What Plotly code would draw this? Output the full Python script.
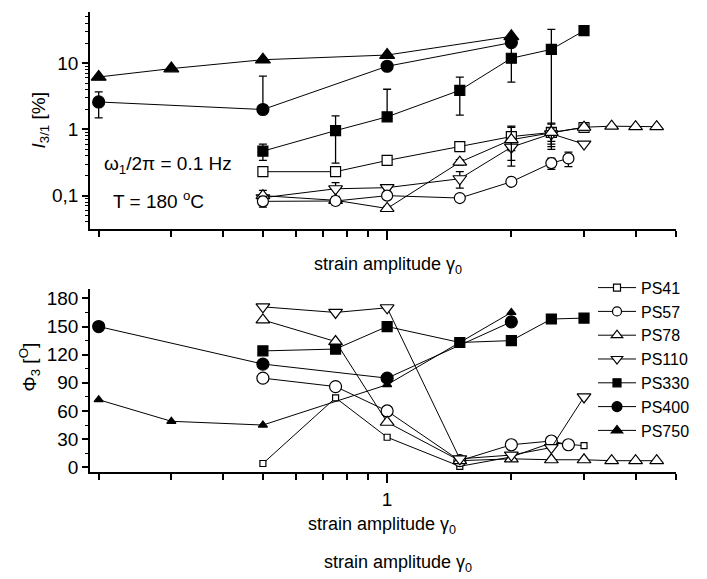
import plotly.graph_objects as go

# ---------------- data ----------------
series = ["PS41", "PS57", "PS78", "PS110", "PS330", "PS400", "PS750"]

# strain amplitudes (gamma_0) per sample
g_ps41 = [0.5, 0.75, 1, 1.5, 2, 2.5, 3]
g_ps57 = [0.5, 0.75, 1, 1.5, 2, 2.5, 2.75]
g_ps78 = [0.5, 0.75, 1, 1.5, 2, 2.5, 3, 3.5, 4, 4.5]
g_ps110 = [0.5, 0.75, 1, 1.5, 2, 2.5, 3]
g_ps330 = [0.5, 0.75, 1, 1.5, 2, 2.5, 3]
g_ps400 = [0.2, 0.5, 1, 2]
g_ps750 = [0.2, 0.3, 0.5, 1, 2]

# relative third harmonic intensity I3/1 [%]
i_ps41 = [0.23, 0.23, 0.34, 0.55, 0.78, 0.9, 1.07]
i_ps57 = [0.082, 0.083, 0.1, 0.092, 0.162, 0.31, 0.365]
i_ps78 = [0.1, 0.085, 0.064, 0.32, 0.7, 0.9, 1.08, 1.12, 1.1, 1.1]
i_ps110 = [0.093, 0.127, 0.132, 0.18, 0.54, 0.86, 0.6]
i_ps330 = [0.47, 0.96, 1.55, 3.9, 11.9, 16.2, 31]
i_ps400 = [2.6, 2.0, 9.0, 20.5]
i_ps750 = [6.2, 8.3, 11.3, 13.3, 25.5]

# error bars on I3/1 (upper, lower)
e_ps41 = [0.02, 0.02, 0.02, 0.04, 0.3, 0.35, 0.08]
e_ps57 = [0.015, 0.01, 0.01, 0.01, 0.01, 0.06, 0.09]
e_ps78 = [0.02, 0.01, 0.005, 0.03, 0.42, 0.3, 0.12, 0, 0, 0]
e_ps110 = [0.01, 0.03, 0.01, 0.05, 0.2, 0.2, 0]
e_ps330_up = [0.13, 0.64, 2.5, 2.25, 6.7, 16.3, 0]
e_ps330_dn = [0.13, 0.65, 0, 2.25, 6.7, 15.7, 0]
e_ps400_up = [1.1, 4.4, 0, 0]
e_ps400_dn = [1.1, 0, 0, 0]

# third harmonic phase Phi3 [deg]
p_ps41 = [4, 74, 32, 1, 11, 26, 23]
p_ps57 = [95, 86, 60, 7, 24, 28, 24]
p_ps78 = [157, 134, 48, 7, 9, 8, 8, 7, 7, 7]
p_ps110 = [171, 165, 170, 9, 13, 21, 75]
p_ps330 = [124, 126, 150, 133, 135, 158, 159]
p_ps400 = [150, 110, 95, 155]
p_ps750 = [72, 49, 45, 88, 165]

# axis tick values
x_major = [1]
x_minor = [0.2, 0.3, 0.4, 0.5, 0.6, 0.7, 0.8, 0.9, 2, 3, 4, 5]
i_major = [0.1, 1, 10]
i_major_text = ["0,1", "1", "10"]
i_minor = [0.04, 0.05, 0.06, 0.07, 0.08, 0.09,
           0.2, 0.3, 0.4, 0.5, 0.6, 0.7, 0.8, 0.9,
           2, 3, 4, 5, 6, 7, 8, 9, 20, 30, 40, 50]
p_major = [0, 30, 60, 90, 120, 150, 180]

# ---------------- styling ----------------
FONT = "Liberation Sans, Arial, sans-serif"
W, H = 707, 579

# symbol, fill, marker size (upper panel, lower panel, legend)
style = {
    "PS41": dict(symbol="square", fill="white", top=10, bot=6, leg=7),
    "PS57": dict(symbol="circle", fill="white", top=11, bot=12, leg=9),
    "PS78": dict(symbol="triangle-up", fill="white", top=12, bot=12, leg=10),
    "PS110": dict(symbol="triangle-down", fill="white", top=12, bot=12, leg=10),
    "PS330": dict(symbol="square", fill="black", top=10, bot=10, leg=8),
    "PS400": dict(symbol="circle", fill="black", top=12, bot=12, leg=10),
    "PS750": dict(symbol="triangle-up", fill="black", top=13, bot=8, leg=10),
}

top_data = {
    "PS41": (g_ps41, i_ps41, e_ps41, e_ps41),
    "PS57": (g_ps57, i_ps57, e_ps57, e_ps57),
    "PS78": (g_ps78, i_ps78, e_ps78, e_ps78),
    "PS110": (g_ps110, i_ps110, e_ps110, e_ps110),
    "PS330": (g_ps330, i_ps330, e_ps330_up, e_ps330_dn),
    "PS400": (g_ps400, i_ps400, e_ps400_up, e_ps400_dn),
    "PS750": (g_ps750, i_ps750, None, None),
}
bot_data = {
    "PS41": (g_ps41, p_ps41),
    "PS57": (g_ps57, p_ps57),
    "PS78": (g_ps78, p_ps78),
    "PS110": (g_ps110, p_ps110),
    "PS330": (g_ps330, p_ps330),
    "PS400": (g_ps400, p_ps400),
    "PS750": (g_ps750, p_ps750),
}

fig = go.Figure()

# upper panel: I3/1 vs strain amplitude (drawn back to front)
for name in ["PS750", "PS400", "PS330", "PS41", "PS110", "PS78", "PS57"]:
    gx, gy, eup, edn = top_data[name]
    st = style[name]
    err = None
    if eup is not None:
        err = dict(type="data", array=eup, arrayminus=edn, symmetric=False,
                   color="black", thickness=1.3, width=4)
    fig.add_trace(go.Scatter(
        x=gx, y=gy, mode="lines+markers", name=name, showlegend=False,
        xaxis="x", yaxis="y", error_y=err, cliponaxis=False,
        line=dict(color="black", width=1),
        marker=dict(symbol=st["symbol"], size=st["top"], color=st["fill"],
                    line=dict(color="black", width=1.2)),
    ))

# lower panel: Phi3 vs strain amplitude
for name in series:
    gx, gy = bot_data[name]
    st = style[name]
    fig.add_trace(go.Scatter(
        x=gx, y=gy, mode="lines+markers", name=name, showlegend=False,
        xaxis="x2", yaxis="y2", cliponaxis=False,
        line=dict(color="black", width=1),
        marker=dict(symbol=st["symbol"], size=st["bot"], color=st["fill"],
                    line=dict(color="black", width=1.2)),
    ))

# legend entries (no data, only the key symbol)
for name in series:
    st = style[name]
    fig.add_trace(go.Scatter(
        x=[None], y=[None], mode="lines+markers", name=name, showlegend=True,
        xaxis="x2", yaxis="y2",
        line=dict(color="black", width=1),
        marker=dict(symbol=st["symbol"], size=st["leg"], color=st["fill"],
                    line=dict(color="black", width=1.2)),
    ))

xdom = [90 / W, 676 / W]
top_dom = [1 - 231 / H, 1 - 11 / H]
bot_dom = [1 - 477 / H, 1 - 292 / H]

axis_common = dict(showline=True, linecolor="black", linewidth=1.5, mirror=False,
                   showgrid=False, zeroline=False, ticks="outside",
                   tickcolor="black", tickwidth=1.5,
                   tickfont=dict(family=FONT, size=19, color="black"))

xaxis_common = dict(axis_common, type="log", range=[-0.72, 0.70],
                    tickmode="array", tickvals=x_major, ticktext=["1"], ticklen=9,
                    minor=dict(tickmode="array", tickvals=x_minor, ticks="outside",
                               ticklen=6, tickcolor="black", tickwidth=1.5))

fig.update_layout(
    width=W, height=H,
    margin=dict(l=0, r=0, t=0, b=0),
    paper_bgcolor="white", plot_bgcolor="white",
    font=dict(family=FONT, size=18, color="black"),
    xaxis=dict(xaxis_common, domain=xdom, anchor="y", showticklabels=False),
    yaxis=dict(axis_common, domain=top_dom, anchor="x", type="log",
               range=[-1.507, 1.776], tickmode="array", tickvals=i_major,
               ticktext=i_major_text, ticklen=6,
               minor=dict(tickmode="array", tickvals=i_minor, ticks="outside",
                          ticklen=3, tickcolor="black", tickwidth=1)),
    xaxis2=dict(xaxis_common, domain=xdom, anchor="y2"),
    yaxis2=dict(axis_common, domain=bot_dom, anchor="x2",
                range=[-5.3, 189.5], tickmode="array", tickvals=p_major, ticklen=6,
                minor=dict(dtick=15, tick0=0, ticks="outside", ticklen=3,
                           tickcolor="black", tickwidth=1)),
    legend=dict(x=593 / W, y=1 - 273 / H, xanchor="left", yanchor="top",
                bgcolor="rgba(0,0,0,0)", font=dict(family=FONT, size=16),
                tracegroupgap=0, itemwidth=38),
)


def label(text, x, y, size=18, angle=0):
    fig.add_annotation(text=text, x=x / W, y=1 - y / H, xref="paper", yref="paper",
                       xanchor="center", yanchor="middle",
                       showarrow=False, textangle=angle,
                       font=dict(family=FONT, size=size, color="black"))


label("<i>I</i><sub>3/1</sub> [%]", 40, 121, size=19, angle=-90)
label("Φ<sub>3</sub> [<sup>O</sup>]", 30, 371, size=19, angle=-90)
label("strain amplitude γ<sub>0</sub>", 388, 268)
label("strain amplitude γ<sub>0</sub>", 382, 531)
label("strain amplitude γ<sub>0</sub>", 398, 569)
label("ω<sub>1</sub>/2π = 0.1 Hz", 168, 166, size=19)
label("T = 180 <sup>o</sup>C", 158, 201, size=19)

fig.write_html("out.html")
